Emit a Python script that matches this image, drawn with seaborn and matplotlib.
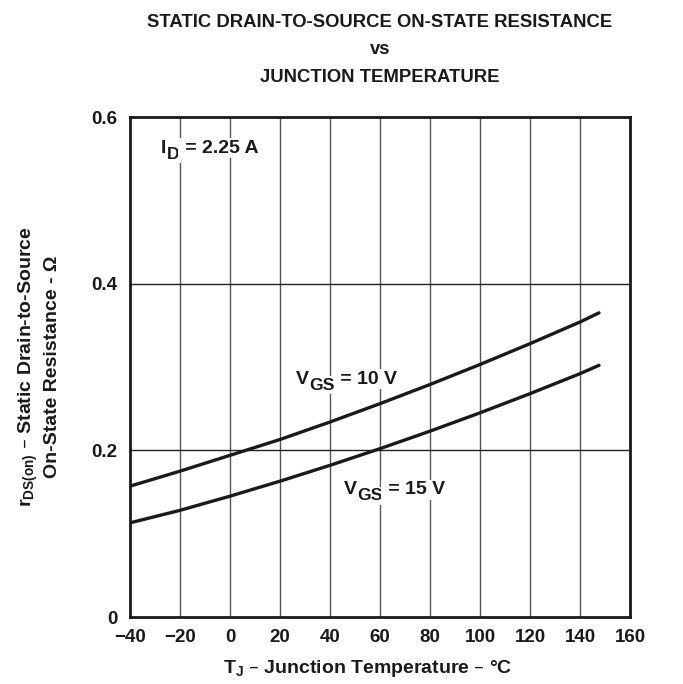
import numpy as np
import pandas as pd
import matplotlib
matplotlib.use("Agg")
import matplotlib.pyplot as plt
import seaborn as sns

# ------------------------------------------------------------
# Data (T_J in degC, r_DS(on) in ohm)
# ------------------------------------------------------------
temp = [-40, -20, 0, 20, 40, 60, 80, 100, 120, 140, 147.6]
r_vgs10 = [0.157, 0.175, 0.194, 0.213, 0.234, 0.256, 0.279, 0.303, 0.328, 0.354, 0.365]
r_vgs15 = [0.113, 0.128, 0.145, 0.163, 0.182, 0.202, 0.223, 0.245, 0.268, 0.292, 0.302]

x_ticks = [-40, -20, 0, 20, 40, 60, 80, 100, 120, 140, 160]
x_ticklabels = ["\u221240", "\u221220", "0", "20", "40", "60", "80", "100", "120", "140", "160"]
y_ticks = [0, 0.2, 0.4, 0.6]
y_ticklabels = ["0", "0.2", "0.4", "0.6"]

df = pd.DataFrame({
    "T": temp * 2,
    "r": r_vgs10 + r_vgs15,
    "vgs": ["10 V"] * len(temp) + ["15 V"] * len(temp),
})

sns.set_style("white")
plt.rcParams["font.family"] = ["Liberation Sans", "DejaVu Sans"]
plt.rcParams["font.weight"] = "bold"
plt.rcParams["mathtext.default"] = "regular"

INK = "#1a1a1a"
FS = 14

fig = plt.figure(figsize=(6.83, 6.84), dpi=100)
ax = fig.add_axes([130 / 683, 67 / 684, 500 / 683, 500 / 684])

sns.lineplot(data=df, x="T", y="r", hue="vgs", palette=[INK, INK],
             linewidth=2.4, legend=False, ax=ax, zorder=3)

ax.set_xlim(-40, 160)
ax.set_ylim(0, 0.6)
ax.set_xticks(x_ticks)
ax.set_xticklabels(x_ticklabels)
ax.set_yticks(y_ticks)
ax.set_yticklabels(y_ticklabels)
ax.tick_params(axis="x", length=0, labelsize=13.5, pad=9, colors=INK)
ax.tick_params(axis="y", length=0, labelsize=13.5, pad=9, colors=INK)
for lab in ax.get_xticklabels() + ax.get_yticklabels():
    lab.set_fontweight("bold")

# grid
for xv in x_ticks[1:-1]:
    ax.axvline(xv, color="#555555", lw=1.0, zorder=1)
for yv in y_ticks[1:-1]:
    ax.axhline(yv, color="#222222", lw=1.0, zorder=1)

for sp in ax.spines.values():
    sp.set_linewidth(2.0)
    sp.set_color(INK)

ax.set_xlabel("T$_J$ \u2013 Junction Temperature \u2013 \u00b0C", fontsize=FS,
              fontweight="bold", labelpad=8, color=INK)
ax.xaxis.label.set_x(0.476)
ax.set_ylabel("r$_{DS(on)}$ \u2013 Static Drain-to-Source\nOn-State Resistance - \u03a9",
              fontsize=FS, fontweight="bold", labelpad=22, color=INK,
              linespacing=1.3)


def chained(x, y, main, sub, rest):
    # main letter, a big lowered subscript, then the rest on the main baseline
    bbox = dict(facecolor="white", edgecolor="none", pad=1.0)
    t1 = ax.text(x, y, main, fontsize=FS, fontweight="bold", color=INK,
                 va="baseline", bbox=bbox, zorder=2)
    t2 = ax.annotate(sub, xy=(1, 0), xycoords=t1, xytext=(0.3, -3.6),
                     textcoords="offset points", va="bottom", ha="left",
                     fontsize=FS * 0.9, fontweight="bold", color=INK,
                     bbox=bbox, zorder=2)
    ax.annotate(" " + rest, xy=(1, 0), xycoords=(t2, t1), xytext=(0, 0),
                textcoords="offset points", va="bottom", ha="left",
                fontsize=FS, fontweight="bold", color=INK,
                bbox=bbox, zorder=2)


chained(-27.5, 0.557, "I", "D", "= 2.25 A")
chained(26.5, 0.280, "V", "GS", "= 10 V")
chained(45.5, 0.147, "V", "GS", "= 15 V")

fig.text(380 / 683, 1 - 14 / 684,
         "STATIC DRAIN-TO-SOURCE ON-STATE RESISTANCE\nvs\nJUNCTION TEMPERATURE",
         ha="center", va="top", fontsize=13.3, fontweight="bold",
         linespacing=1.8, color=INK)

fig.savefig("out.png", dpi=100)
